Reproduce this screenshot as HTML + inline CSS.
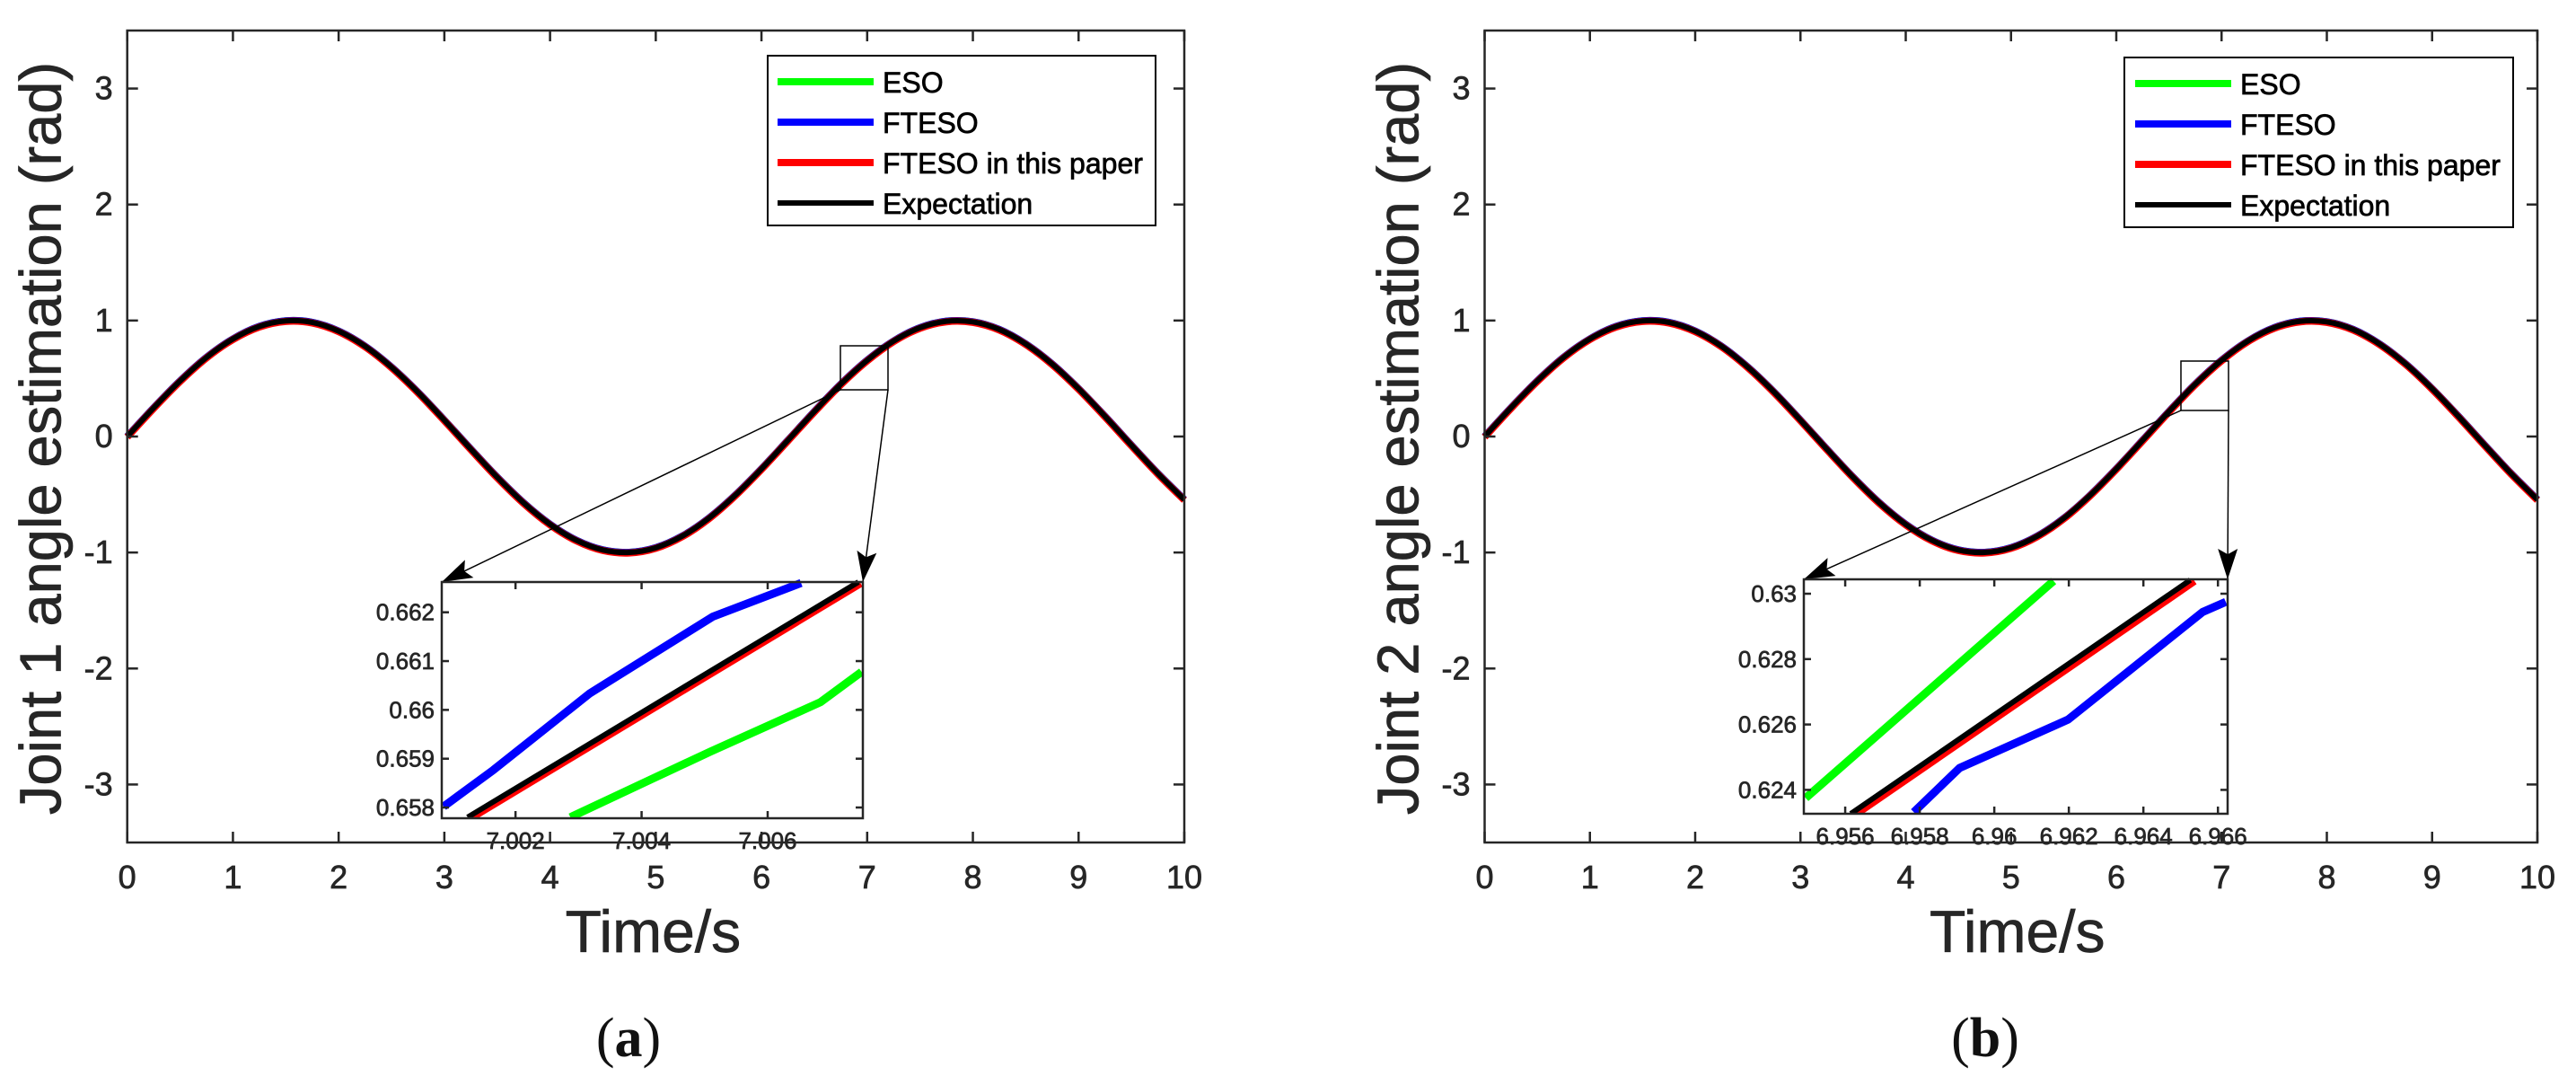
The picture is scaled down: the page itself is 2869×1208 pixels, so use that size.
<!DOCTYPE html>
<html><head><meta charset="utf-8"><style>
html,body{margin:0;padding:0;background:#fff;}
svg{display:block;font-family:"Liberation Sans",Arial,sans-serif;}
svg text{stroke-width:0.7px;}
</style></head><body>
<svg id="fig" width="2869" height="1208" viewBox="0 0 2869 1208" xmlns="http://www.w3.org/2000/svg"></svg>
<script>
// ---- data ----
const timeVals = [0,0.25,0.5,0.75,1,1.25,1.5,1.75,2,2.25,2.5,2.75,3,3.25,3.5,3.75,4,4.25,4.5,4.75,5,5.25,5.5,5.75,6,6.25,6.5,6.75,7,7.25,7.5,7.75,8,8.25,8.5,8.75,9,9.25,9.5,9.75,10];
const expectVals = [0,0.247,0.479,0.682,0.841,0.949,0.997,0.984,0.909,0.778,0.598,0.382,0.141,-0.108,-0.351,-0.572,-0.757,-0.895,-0.978,-0.999,-0.959,-0.859,-0.706,-0.508,-0.279,-0.033,0.215,0.451,0.657,0.823,0.938,0.994,0.989,0.923,0.798,0.625,0.412,0.174,-0.075,-0.319,-0.544];
const xTicks = [0,1,2,3,4,5,6,7,8,9,10];
const yTicks = [-3,-2,-1,0,1,2,3];
const legendLabels = ["ESO","FTESO","FTESO in this paper","Expectation"];
// inset (a)
const insetAxTicks = [7.002,7.004,7.006];
const insetAxTickLabels = ["7.002","7.004","7.006"];
const insetAyTicks = [0.658,0.659,0.66,0.661,0.662];
const insetAyTickLabels = ["0.658","0.659","0.66","0.661","0.662"];
const insetAEsoX = [7.00287,7.00414,7.0051,7.00684,7.00749];
const insetAEsoY = [0.6578,0.65857,0.65915,0.66016,0.66078];
const insetAFtesoX = [7.00086,7.00165,7.00318,7.00513,7.00653];
const insetAFtesoY = [0.65802,0.65877,0.66034,0.66191,0.6626];
const insetAPaperX = [7.00128,7.00748];
const insetAPaperY = [0.65776,0.66258];
const insetAExpX = [7.00124,7.00744];
const insetAExpY = [0.6578,0.66262];
// inset (b)
const insetBxTicks = [6.956,6.958,6.96,6.962,6.964,6.966];
const insetBxTickLabels = ["6.956","6.958","6.96","6.962","6.964","6.966"];
const insetByTicks = [0.624,0.626,0.628,0.63];
const insetByTickLabels = ["0.624","0.626","0.628","0.63"];
const insetBEsoX = [6.95494,6.96159];
const insetBEsoY = [0.62375,0.63039];
const insetBFtesoX = [6.95784,6.95907,6.96198,6.96559,6.96621];
const insetBFtesoY = [0.62332,0.62467,0.62615,0.62944,0.62975];
const insetBPaperX = [6.95627,6.96538];
const insetBPaperY = [0.62322,0.63037];
const insetBExpX = [6.95615,6.96526];
const insetBExpY = [0.62327,0.63042];

const NS="http://www.w3.org/2000/svg";
const svg=document.getElementById('fig');
const COLORS={eso:"#00ff00",fteso:"#0000ff",paper:"#ff0000",exp:"#000000"};
const AX="#262626";
function mk(tag,attrs,parent){const e=document.createElementNS(NS,tag);for(const k in attrs)e.setAttribute(k,attrs[k]);(parent||svg).appendChild(e);return e;}
function lin(d0,d1,r0,r1){return v=>r0+(v-d0)/(d1-d0)*(r1-r0);}
function smoothPath(px,py){
  let d="M"+px[0].toFixed(2)+","+py[0].toFixed(2);
  for(let i=0;i<px.length-1;i++){
    const x0=px[Math.max(i-1,0)],y0=py[Math.max(i-1,0)],x1=px[i],y1=py[i],x2=px[i+1],y2=py[i+1],x3=px[Math.min(i+2,px.length-1)],y3=py[Math.min(i+2,px.length-1)];
    d+=" C"+(x1+(x2-x0)/6).toFixed(2)+","+(y1+(y2-y0)/6).toFixed(2)+" "+(x2-(x3-x1)/6).toFixed(2)+","+(y2-(y3-y1)/6).toFixed(2)+" "+x2.toFixed(2)+","+y2.toFixed(2);
  }
  return d;
}
function polyPath(px,py){return px.map((x,i)=>(i?"L":"M")+x.toFixed(2)+","+py[i].toFixed(2)).join(" ");}

function panel(P){
  const g=mk('g',{});
  
  
  const sx=lin(0,10,P.L,P.R), sy=lin(-3.5,3.5,P.B,P.T);
  const px=timeVals.map(sx), py=expectVals.map(sy);
  const curves=[["eso",COLORS.eso,8,0],["fteso",COLORS.fteso,8,0],["paper",COLORS.paper,8,0.6],["exp",COLORS.exp,6,0]];
  curves.forEach(c=>{
    const p=mk('path',{d:smoothPath(px,py.map(v=>v+c[3])),fill:"none",stroke:c[1],"stroke-width":c[2],"stroke-linejoin":"round"},g);
    
    
  });
  const box=mk('rect',{x:P.L,y:P.T,width:P.R-P.L,height:P.B-P.T,fill:"none",stroke:AX,"stroke-width":2.5},g);
  
  
  xTicks.forEach(t=>{
    const x=sx(t);
    mk('line',{x1:x,y1:P.B,x2:x,y2:P.B-12,stroke:AX,"stroke-width":2.5},g);
    mk('line',{x1:x,y1:P.T,x2:x,y2:P.T+12,stroke:AX,"stroke-width":2.5},g);
    const tx=mk('text',{x:x,y:989,"font-size":36,fill:AX,stroke:AX,"text-anchor":"middle"},g);
    tx.textContent=String(t);
    
    
  });
  yTicks.forEach(t=>{
    const y=sy(t);
    mk('line',{x1:P.L,y1:y,x2:P.L+12,y2:y,stroke:AX,"stroke-width":2.5},g);
    mk('line',{x1:P.R,y1:y,x2:P.R-12,y2:y,stroke:AX,"stroke-width":2.5},g);
    const tx=mk('text',{x:P.L-16,y:y+12,"font-size":36,fill:AX,stroke:AX,"text-anchor":"end"},g);
    tx.textContent=String(t);
    
    
  });
  const xt=mk('text',{x:(P.L+P.R)/2+(P.name==='a'?-3:7),y:1060,"font-size":66,fill:AX,stroke:AX,"text-anchor":"middle"},g);
  xt.textContent="Time/s";
  
  
  const yt=mk('text',{x:0,y:0,"font-size":65,fill:AX,stroke:AX,"text-anchor":"middle",transform:"translate("+(P.L-74)+",488) rotate(-90)"},g);
  yt.textContent=P.ylabel;
  
  
  const cap=mk('text',{x:P.capX,y:1176,"font-size":62,fill:"#111","text-anchor":"middle","font-family":"Liberation Serif, serif"},g);
  cap.innerHTML='(<tspan font-weight="bold">'+P.name+'</tspan>)';
  
  
  const zr=mk('rect',{x:P.zr[0],y:P.zr[1],width:P.zr[2]-P.zr[0],height:P.zr[3]-P.zr[1],fill:"none",stroke:"#000","stroke-width":1.5},g);
  
  
  [[P.zr[0],P.zr[3],P.iL,P.iT],[P.zr[2],P.zr[3],P.iR,P.iT]].forEach(a=>{
    mk('line',{x1:a[0],y1:a[1],x2:a[2],y2:a[3],stroke:"#000","stroke-width":1.5},g);
    const ang=Math.atan2(a[3]-a[1],a[2]-a[0]);const L=34,W=11;
    const bx=a[2]-L*Math.cos(ang),by=a[3]-L*Math.sin(ang);
    const ar=mk('polygon',{points:[a[2],a[3],bx+W*Math.sin(ang),by-W*Math.cos(ang),bx+0.18*L*Math.cos(ang),by+0.18*L*Math.sin(ang),bx-W*Math.sin(ang),by+W*Math.cos(ang)].join(","),fill:"#000"},g);
    
    
  });
  const lg=mk('g',{},g);
  
  
  mk('rect',{x:P.lg[0],y:P.lg[1],width:P.lg[2]-P.lg[0],height:P.lg[3]-P.lg[1],fill:"#fff",stroke:"#000","stroke-width":2},lg);
  const lc=[COLORS.eso,COLORS.fteso,COLORS.paper,COLORS.exp], lw=[8,8,8,6];
  legendLabels.forEach((lab,i)=>{
    const y=P.lg[1]+29+i*45;
    const ln=mk('line',{x1:P.lgLine[0],y1:y,x2:P.lgLine[1],y2:y,stroke:lc[i],"stroke-width":lw[i]},lg);
    
    
    const t=mk('text',{x:P.lgLine[1]+10,y:y+12,"font-size":32,fill:"#000",stroke:"#000"},lg);
    t.textContent=lab;
    
    
  });
  const ig=mk('g',{},g);
  
  
  mk('rect',{x:P.iL,y:P.iT,width:P.iR-P.iL,height:P.iB-P.iT,fill:"#fff"},ig);
  const ix=lin(P.ixr[0],P.ixr[1],P.iL,P.iR), iy=lin(P.iyr[0],P.iyr[1],P.iB,P.iT);
  const clipId='clip'+P.name;
  const cp=mk('clipPath',{id:clipId},ig);
  mk('rect',{x:P.iL,y:P.iT-3,width:P.iR-P.iL+4,height:P.iB-P.iT+3},cp);
  const cg=mk('g',{"clip-path":"url(#"+clipId+")"},ig);
  const ser=[["inset-eso",P.eso,COLORS.eso,9],["inset-fteso",P.fteso,COLORS.fteso,9],["inset-paper",P.paper,COLORS.paper,7],["inset-expectation",P.exp,COLORS.exp,6]];
  ser.forEach(s=>{
    const p=mk('path',{d:polyPath(s[1][0].map(ix),s[1][1].map(iy)),fill:"none",stroke:s[2],"stroke-width":s[3],"stroke-linejoin":"round"},cg);
    
    
  });
  mk('rect',{x:P.iL,y:P.iT,width:P.iR-P.iL,height:P.iB-P.iT,fill:"none",stroke:AX,"stroke-width":2.5},ig);
  P.ixt.forEach((t,i)=>{
    const x=ix(t);
    mk('line',{x1:x,y1:P.iB,x2:x,y2:P.iB-8,stroke:AX,"stroke-width":2.5},ig);
    mk('line',{x1:x,y1:P.iT,x2:x,y2:P.iT+8,stroke:AX,"stroke-width":2.5},ig);
    const tx=mk('text',{x:x,y:P.iB+34,"font-size":26,fill:AX,stroke:AX,"text-anchor":"middle"},ig);
    tx.textContent=P.ixl[i];
    
    
  });
  P.iyt.forEach((t,i)=>{
    const y=iy(t);
    mk('line',{x1:P.iL,y1:y,x2:P.iL+8,y2:y,stroke:AX,"stroke-width":2.5},ig);
    mk('line',{x1:P.iR,y1:y,x2:P.iR-8,y2:y,stroke:AX,"stroke-width":2.5},ig);
    const tx=mk('text',{x:P.iL-8,y:y+9,"font-size":26,fill:AX,stroke:AX,"text-anchor":"end"},ig);
    tx.textContent=P.iyl[i];
    
    
  });
}
panel({name:"a",L:141.7,R:1319,T:34,B:938,ylabel:"Joint 1 angle estimation (rad)",capX:700,
  zr:[936,385,989,434],lg:[855,62,1287,251],lgLine:[866,973],
  iL:492,iR:961,iT:648,iB:911,ixr:[7.00083,7.00751],iyr:[0.65778,0.66262],
  ixt:insetAxTicks,ixl:insetAxTickLabels,iyt:insetAyTicks,iyl:insetAyTickLabels,
  eso:[insetAEsoX,insetAEsoY],fteso:[insetAFtesoX,insetAFtesoY],paper:[insetAPaperX,insetAPaperY],exp:[insetAExpX,insetAExpY]});
panel({name:"b",L:1653.5,R:2826,T:34,B:938,ylabel:"Joint 2 angle estimation (rad)",capX:2211,
  zr:[2429,402,2482,457],lg:[2366,64,2799,253],lgLine:[2378,2485],
  iL:2009,iR:2481,iT:645,iB:906,ixr:[6.95489,6.96626],iyr:[0.62327,0.63044],
  ixt:insetBxTicks,ixl:insetBxTickLabels,iyt:insetByTicks,iyl:insetByTickLabels,
  eso:[insetBEsoX,insetBEsoY],fteso:[insetBFtesoX,insetBFtesoY],paper:[insetBPaperX,insetBPaperY],exp:[insetBExpX,insetBExpY]});
</script>
</body></html>
